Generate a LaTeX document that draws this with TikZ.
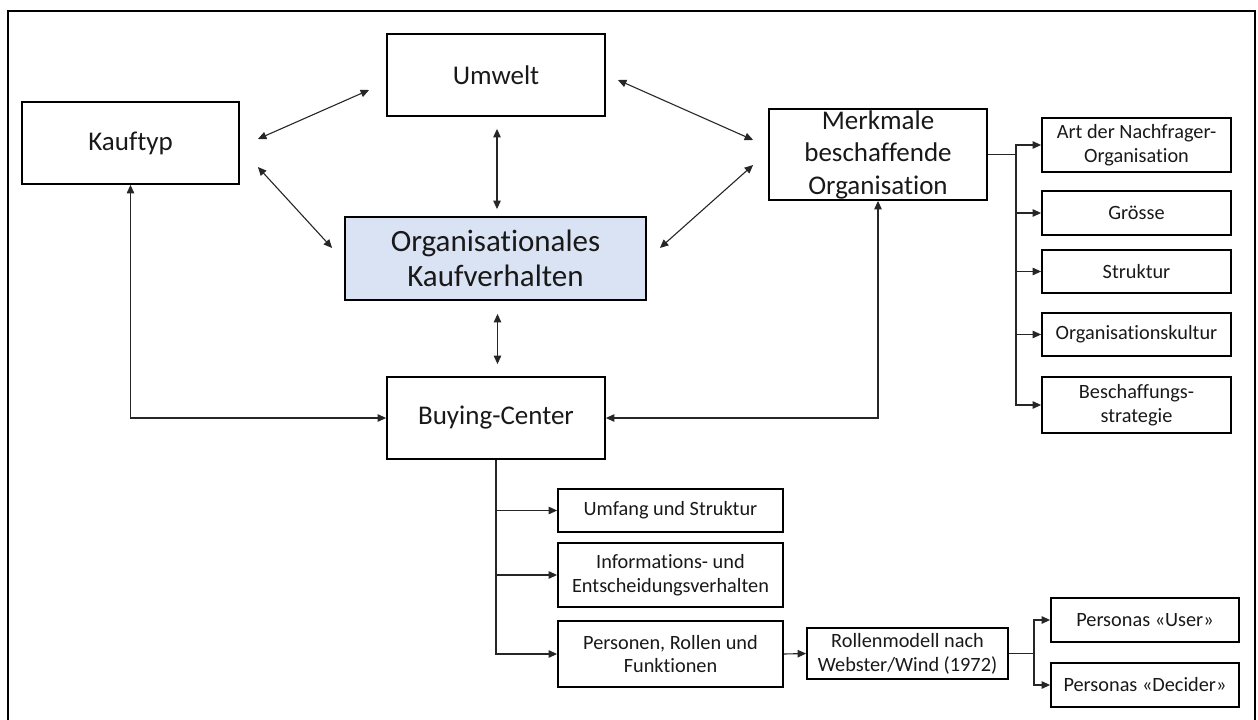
\documentclass[tikz,border=0pt]{standalone}
\usepackage{fontspec}
\setmainfont{Carlito}[Ligatures=NoCommon]
\usetikzlibrary{arrows.meta,calc}
\definecolor{boxblue}{RGB}{218,227,243}
\begin{document}
\begin{tikzpicture}[x=1pt,y=-1pt,
  box/.style={draw=black,line width=1.8pt,inner sep=0pt,align=center,text=black!90},
  bigbox/.style={box,font=\fontsize{27}{32.5}\selectfont},
  hugebox/.style={box,font=\fontsize{31}{35.5}\selectfont},
  smallbox/.style={box,font=\fontsize{20.3}{23.8}\selectfont},
  link/.style={line width=1.1pt,draw=black!85},
  onearrow/.style={-{Triangle[length=8.5pt,width=7.5pt]}},
  twoarrow/.style={{Triangle[length=8.5pt,width=7.5pt]}-{Triangle[length=8.5pt,width=7.5pt]}}
]
\useasboundingbox (0,0) rectangle (1258,720);
% outer frame
\draw[line width=1.8pt] (8,722) -- (8,11) -- (1255,11) -- (1255,722);

% main boxes
\node[bigbox,minimum width=217pt,minimum height=82pt] (kauf) at (130.5,143) {Kauftyp};
\node[bigbox,minimum width=218pt,minimum height=82pt] (umw) at (496,75) {Umwelt};
\node[hugebox,fill=boxblue,minimum width=301pt,minimum height=83pt] (org) at (495.5,258.5) {Organisationales\\Kaufverhalten};
\node[bigbox,minimum width=218pt,minimum height=82pt] (buy) at (496,418) {Buying-Center};
\node[bigbox,minimum width=218pt,minimum height=91pt] (merk) at (878,154.5) {Merkmale\\beschaffende\\Organisation};

% characteristics of the purchasing organisation
\node[smallbox,minimum width=189pt,minimum height=54pt] (art) at (1136.5,145) {Art der Nachfrager-\\Organisation};
\node[smallbox,minimum width=189pt,minimum height=44pt] (gr) at (1136.5,213) {Grösse};
\node[smallbox,minimum width=189pt,minimum height=43pt] (str) at (1136.5,271.5) {Struktur};
\node[smallbox,minimum width=189pt,minimum height=43pt] (kult) at (1136.5,334.5) {Organisationskultur};
\node[smallbox,minimum width=189pt,minimum height=56pt] (besch) at (1136.5,405) {Beschaffungs-\\strategie};

% buying-center aspects
\node[smallbox,minimum width=225pt,minimum height=43pt] (umf) at (670.5,510.5) {Umfang und Struktur};
\node[smallbox,minimum width=225pt,minimum height=64pt] (info) at (670.5,575) {Informations- und\\Entscheidungsverhalten};
\node[smallbox,minimum width=225pt,minimum height=66pt] (pers) at (670.5,654) {Personen, Rollen und\\Funktionen};
\node[smallbox,minimum width=201pt,minimum height=51pt] (roll) at (907.5,653.5) {Rollenmodell nach\\Webster/Wind (1972)};
\node[smallbox,minimum width=188pt,minimum height=44pt] (user) at (1145,620) {Personas «User»};
\node[smallbox,minimum width=188pt,minimum height=44pt] (dec) at (1145,685) {Personas «Decider»};

% mutual influences
\draw[link,twoarrow] ($(kauf.east)+(18,-4)$) -- ($(umw.west)+(-17,15)$);
\draw[link,twoarrow] ($(kauf.east)+(18,24)$) -- ($(org.west)+(-12,-10.5)$);
\draw[link,twoarrow] ($(umw.south)+(1,12)$) -- ($(org.north)+(1.5,-7)$);
\draw[link,twoarrow] ($(org.south)+(2,13)$) -- ($(buy.north)+(1.5,-12)$);
\draw[link,twoarrow] ($(umw.east)+(12,5)$) -- ($(merk.west)+(-15,-14.5)$);
\draw[link,twoarrow] ($(org.east)+(13,-10.5)$) -- ($(merk.west)+(-15,10.5)$);
\draw[link,twoarrow] (kauf.south) |- (buy.west);
\draw[link,twoarrow] (merk.south) |- (buy.east);

% branch to the organisation characteristics
\coordinate (mb) at (1016,154.5);
\draw[link] (merk.east) -- (mb);
\foreach \n in {art,gr,str,kult,besch}
  \draw[link,onearrow] (mb) |- (\n.west);

% branch to the buying-center aspects
\foreach \n in {umf,info,pers}
  \draw[link,onearrow] (buy.south) |- (\n.west);
\draw[link,onearrow] (pers.east) -- (roll.west);

% branch to the personas
\coordinate (rb) at (1034,653.5);
\draw[link] (roll.east) -- (rb);
\draw[link,onearrow] (rb) |- (user.west);
\draw[link,onearrow] (rb) |- (dec.west);
\end{tikzpicture}
\end{document}
